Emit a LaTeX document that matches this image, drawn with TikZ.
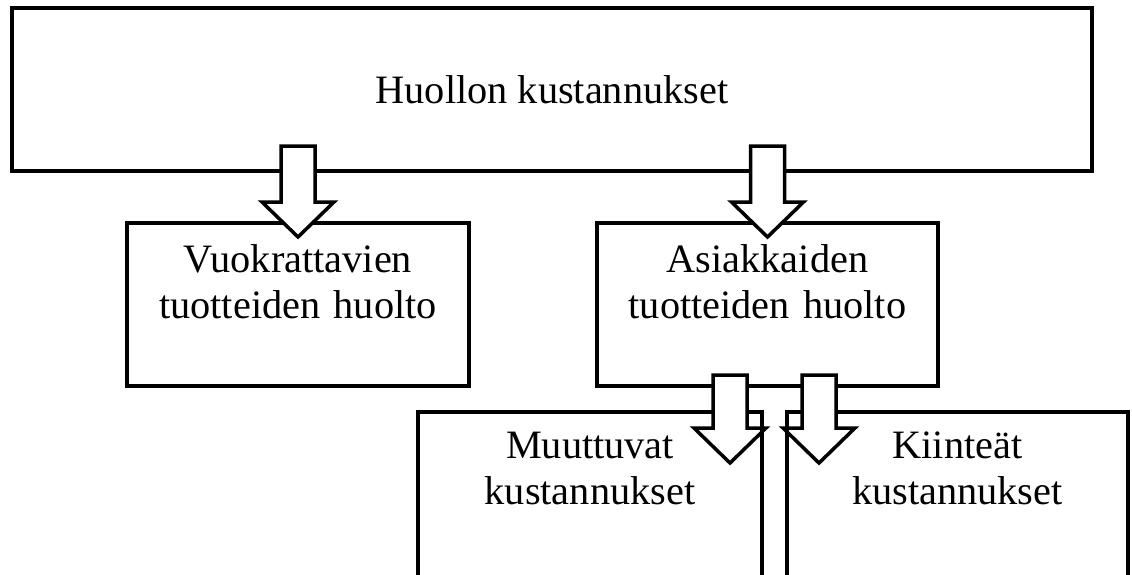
\documentclass[tikz,border=0pt]{standalone}
\usepackage{fontspec}
\setmainfont{Liberation Serif}
\usetikzlibrary{positioning, calc}

\tikzset{
  box/.style={draw=black, line width=4.5pt, fill=white, inner sep=0pt, outer sep=0pt,
    font=\fontsize{40.3}{46.5}\selectfont},
  lbl/.style={inner sep=0pt, outer sep=0pt, text width=320pt, align=center,
    font=\fontsize{40.3}{46.5}\selectfont},
  edge/.style={draw=black, line width=4.5pt},
  blockarr/.style={draw=black, line width=3.5pt, fill=white, line join=miter,
    to path={let \p1=(\tikztostart), \p2=(\tikztotarget) in
      (\x1-17pt,\y1) -- (\x1+17pt,\y1) -- (\x1+17pt,\y2+35pt) -- (\x1+36pt,\y2+35pt)
      -- (\x2,\y2) -- (\x1-36pt,\y2+35pt) -- (\x1-17pt,\y2+35pt) -- cycle}}
}

\begin{document}
\begin{tikzpicture}[x=1pt, y=1pt]
        % boxes
        \node[box, minimum width=1080pt, minimum height=163pt] (top) at (552,-89.5) {Huollon kustannukset};
        \node[box, minimum width=342pt, minimum height=163pt] (vuokra) at (298,-304.5) {};
        \node[box, minimum width=341pt, minimum height=163pt] (asiakas) at (767.5,-304.5) {};
        \node[box, minimum width=344pt, minimum height=200pt] (muuttuvat) at (590,-512) {};
        \node[box, minimum width=341pt, minimum height=200pt] (kiintea) at (957.5,-512) {};

        \node[lbl, below=16.5pt of vuokra.north] {\strut Vuokrattavien\\tuotteiden huolto};
        \node[lbl, below=16.5pt of asiakas.north] {\strut Asiakkaiden\\tuotteiden huolto};
        \node[lbl, below=13.5pt of muuttuvat.north] {\strut Muuttuvat\\kustannukset};
        \node[lbl, below=13.5pt of kiintea.north] {\strut Kiinteät\\kustannukset};

        % block arrows
        \coordinate (m1) at ([xshift=-32pt]muuttuvat.north east);
        \coordinate (m2) at ([xshift=32pt]kiintea.north west);
        \draw[blockarr] ($(vuokra.north |- top.south)+(0,25pt)$) to ([yshift=-14pt]vuokra.north);
        \draw[blockarr] ($(asiakas.north |- top.south)+(0,25pt)$) to ([yshift=-14pt]asiakas.north);
        \draw[blockarr] ($(m1 |- asiakas.south)+(0,11pt)$) to ([yshift=-51pt]m1);
        \draw[blockarr] ($(m2 |- asiakas.south)+(0,11pt)$) to ([yshift=-51pt]m2);

        \draw[edge] (muuttuvat.north east) -- (muuttuvat.south east);
        \draw[edge] (kiintea.north west) -- (kiintea.south west);

        \pgfresetboundingbox
        \useasboundingbox (0,0) rectangle (1132,-574);
\end{tikzpicture}
\end{document}
